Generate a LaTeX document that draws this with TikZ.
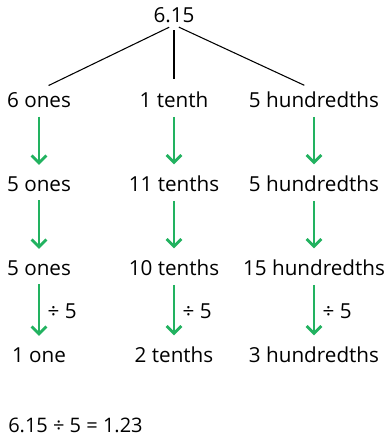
\documentclass[tikz,border=0pt]{standalone}
\usepackage{fontspec}
\setmainfont{Open Sans}
\usepackage{xcolor}
\usetikzlibrary{arrows.meta}
\definecolor{arrowgreen}{RGB}{34,178,96}

\begin{document}
\begin{tikzpicture}[
  x=0.75pt, y=-0.75pt,
  font=\fontsize{15.5}{18}\selectfont,
  part/.style={inner sep=1.5pt},
  leg/.style={line width=0.8pt, shorten >=8pt, shorten <=4pt},
  ar/.style={draw=arrowgreen, line width=2.2pt,
             -{Straight Barb[length=5.5pt, width=11pt, line width=2.2pt]},
             shorten >=7pt, shorten <=5pt},
  lab/.style={right=2pt, midway},
]
\useasboundingbox (0,0) rectangle (387,436);

\node[part] (top) at (174, 15) {6.15};

\node[part] (o1) at (39, 100) {6 ones};
\node[part] (t1) at (174, 100) {1 tenth};
\node[part] (h1) at (314, 100) {5 hundredths};

\node[part] (o2) at (39, 184) {5 ones};
\node[part] (t2) at (174, 184) {11 tenths};
\node[part] (h2) at (314, 184) {5 hundredths};

\node[part] (o3) at (39, 268) {5 ones};
\node[part] (t3) at (174, 268) {10 tenths};
\node[part] (h3) at (314, 268) {15 hundredths};

\node[part] (o4) at (39, 355) {1 one};
\node[part] (t4) at (174, 355) {2 tenths};
\node[part] (h4) at (314, 355) {3 hundredths};

\node[part, anchor=west, font=\fontsize{15}{18}\selectfont] (sum) at (6, 425) {6.15 ÷ 5 = 1.23};

% partition lines
\draw[leg] (top.south) -- (o1.north);
\draw[leg] (top.south) -- (t1.north);
\draw[leg] (top.south) -- (h1.north);

% exchanges
\foreach \a/\b in {o1/o2, o2/o3, t1/t2, t2/t3, h1/h2, h2/h3}
  \draw[ar] (\a) -- (\b);

% sharing by 5
\foreach \a/\b in {o3/o4, t3/t4, h3/h4}
  \draw[ar] (\a) -- node[lab] {÷ 5} (\b);
\end{tikzpicture}
\end{document}
